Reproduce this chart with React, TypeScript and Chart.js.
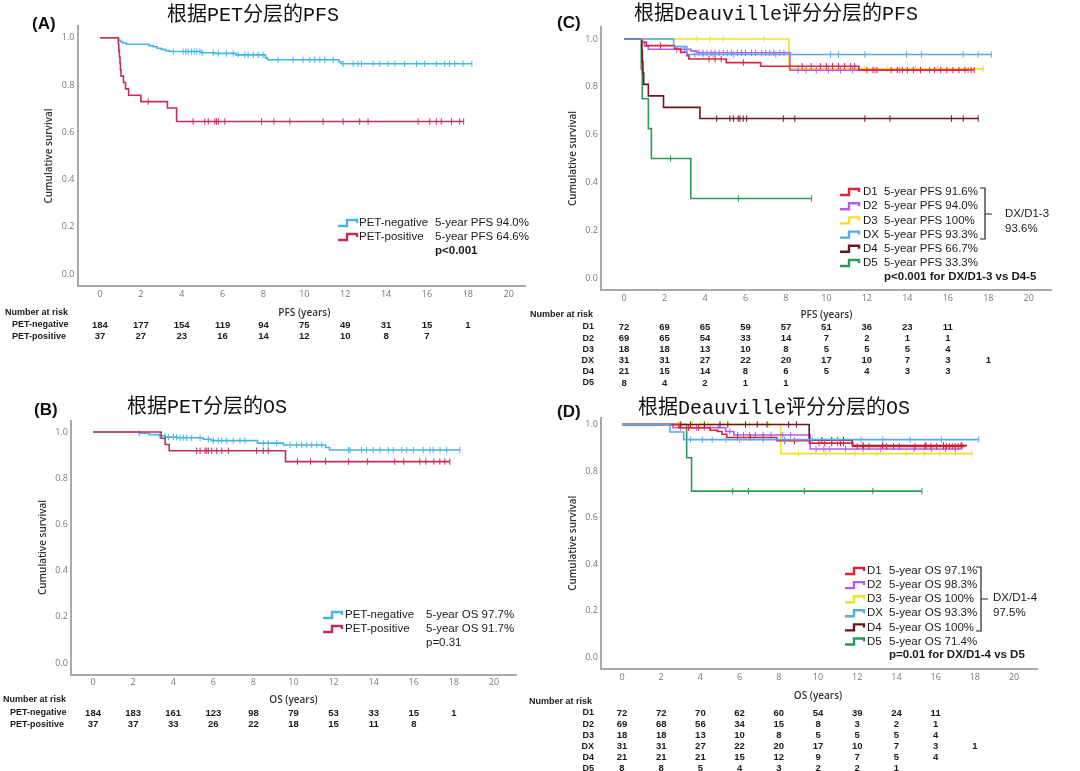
import { useEffect, useRef } from 'react';
import { Chart, registerables } from 'chart.js';
Chart.register(...registerables);

const W = 1080;
const H = 771;

// ---------------- data ----------------
const xTickValues = [0, 2, 4, 6, 8, 10, 12, 14, 16, 18, 20];
const yTickValues = [0, 0.2, 0.4, 0.6, 0.8, 1.0];
const riskTimes = [0, 2, 4, 6, 8, 10, 12, 14, 16, 18];

// Panel A: PFS by PET
const pfsNegT = [0, 0.9, 1.0, 1.1, 1.3, 2.4, 2.6, 2.8, 3.0, 3.2, 3.4, 4.95, 5.6, 6.65, 8.1, 8.2, 11.7, 11.8, 18.2];
const pfsNegS = [1, 0.989, 0.984, 0.978, 0.973, 0.967, 0.962, 0.956, 0.951, 0.946, 0.942, 0.937, 0.934, 0.928, 0.915, 0.907, 0.898, 0.89, 0.89];
const pfsNegCens = [3.59, 4.07, 4.2, 4.32, 4.48, 4.61, 4.73, 4.89, 5.0, 5.54, 5.79, 6.19, 6.52, 6.76, 7.09, 7.25, 7.5, 7.74, 7.99, 8.72, 9.45, 9.94, 10.27, 10.51, 10.76, 11.0, 11.41, 11.9, 12.39, 12.63, 12.8, 13.37, 13.69, 14.1, 14.43, 14.91, 15.49, 15.89, 16.46, 16.87, 17.11, 17.36, 17.77, 18.2];
const pfsPosT = [0, 0.9, 0.92, 0.95, 0.98, 1.0, 1.03, 1.15, 1.25, 1.4, 2.0, 3.3, 3.75, 17.8];
const pfsPosS = [1, 0.973, 0.946, 0.919, 0.892, 0.865, 0.838, 0.811, 0.784, 0.757, 0.73, 0.703, 0.646, 0.646];
const pfsPosCens = [2.36, 4.56, 5.13, 5.3, 5.62, 5.7, 5.79, 6.11, 7.91, 8.51, 9.29, 10.92, 11.9, 12.71, 13.12, 15.57, 16.14, 16.46, 16.7, 17.2, 17.6, 17.8];
const riskA_neg = [184, 177, 154, 119, 94, 75, 49, 31, 15, 1];
const riskA_pos = [37, 27, 23, 16, 14, 12, 10, 8, 7];

// Panel B: OS by PET
const osNegT = [0, 2.3, 2.8, 3.3, 3.6, 4.2, 5.5, 5.9, 8.2, 9.5, 11.6, 11.8, 18.3];
const osNegS = [1, 0.995, 0.989, 0.984, 0.978, 0.975, 0.969, 0.963, 0.952, 0.944, 0.933, 0.922, 0.922];
const osNegCens = [2.31, 3.34, 3.59, 3.76, 4.01, 4.17, 4.34, 4.5, 4.67, 4.92, 5.34, 5.75, 6.0, 6.25, 6.42, 6.67, 7.0, 7.33, 7.58, 8.49, 8.74, 9.16, 9.83, 10.16, 10.41, 10.66, 10.91, 11.16, 11.41, 12.74, 12.82, 13.4, 13.65, 13.98, 14.31, 14.73, 14.98, 15.4, 15.65, 15.98, 16.47, 16.81, 16.97, 17.31, 17.64, 18.3];
const osPosT = [0, 3.4, 3.6, 3.8, 9.6, 17.8];
const osPosS = [1, 0.973, 0.946, 0.919, 0.872, 0.872];
const osPosCens = [5.17, 5.34, 5.59, 5.67, 5.75, 5.92, 6.17, 6.42, 6.75, 8.16, 8.49, 8.74, 10.2, 10.85, 11.6, 12.74, 13.7, 15.05, 15.5, 16.3, 16.6, 17.0, 17.3, 17.55, 17.8];
const riskB_neg = [184, 183, 161, 123, 98, 79, 53, 33, 15, 1];
const riskB_pos = [37, 37, 33, 26, 22, 18, 15, 11, 8];

// Panel C: PFS by Deauville
const cD1T = [0, 0.9, 1.1, 2.5, 2.8, 3.1, 3.2, 5.05, 6.75, 11.6, 17.3];
const cD1S = [1, 0.986, 0.972, 0.958, 0.944, 0.93, 0.916, 0.901, 0.886, 0.87, 0.87];
const cD1Cens = [1.8, 4.2, 4.5, 4.8, 5.9, 8.8, 9.25, 9.7, 10.0, 10.3, 10.6, 10.9, 11.2, 11.4, 12.0, 12.3, 12.5, 13.2, 13.5, 13.75, 14.0, 14.3, 14.65, 15.35, 15.65, 15.95, 16.25, 16.55, 16.85, 17.15, 17.3];
const cD2T = [0, 0.9, 1.0, 1.2, 3.3, 3.6, 8.2, 17.0];
const cD2S = [1, 0.986, 0.971, 0.957, 0.95, 0.942, 0.869, 0.869];
const cD2Cens = [2.6, 3.0, 3.7, 3.9, 4.1, 4.3, 4.5, 4.7, 4.9, 5.1, 5.3, 5.6, 5.8, 6.0, 6.3, 6.5, 6.8, 7.0, 7.2, 7.4, 7.7, 7.9, 8.6, 9.0, 9.5, 10.1, 10.7, 11.3, 12.4, 13.6, 15.1, 17.0];
const cD3T = [0, 8.15, 17.75];
const cD3S = [1, 0.875, 0.875];
const cD3Cens = [3.6, 4.25, 4.9, 6.9, 8.9, 10.3, 11.9, 13.0, 14.4, 15.5, 16.8, 17.75];
const cDXT = [0, 2.45, 3.1, 18.15];
const cDXS = [1, 0.968, 0.935, 0.935];
const cDXCens = [3.5, 3.9, 4.4, 5.4, 7.5, 10.2, 10.6, 11.9, 13.96, 14.7, 16.76, 17.5, 18.15];
const cD4T = [0, 0.88, 0.9, 0.93, 0.97, 1.2, 1.95, 3.75, 17.5];
const cD4S = [1, 0.952, 0.905, 0.857, 0.81, 0.762, 0.714, 0.667, 0.667];
const cD4Cens = [4.58, 5.23, 5.4, 5.64, 5.73, 5.89, 6.06, 7.87, 8.44, 11.9, 13.14, 16.18, 16.76, 17.5];
const cD5T = [0, 0.85, 0.9, 1.2, 1.35, 3.3, 9.27];
const cD5S = [1, 0.875, 0.75, 0.625, 0.5, 0.333, 0.333];
const cD5Cens = [2.3, 5.65, 9.27];
const riskC_D1 = [72, 69, 65, 59, 57, 51, 36, 23, 11];
const riskC_D2 = [69, 65, 54, 33, 14, 7, 2, 1, 1];
const riskC_D3 = [18, 18, 13, 10, 8, 5, 5, 5, 4];
const riskC_DX = [31, 31, 27, 22, 20, 17, 10, 7, 3, 1];
const riskC_D4 = [21, 15, 14, 8, 6, 5, 4, 3, 3];
const riskC_D5 = [8, 4, 2, 1, 1];

// Panel D: OS by Deauville
const dD1T = [0, 2.9, 4.5, 4.85, 5.1, 5.35, 7.9, 9.56, 11.77, 17.5];
const dD1S = [1, 0.986, 0.975, 0.97, 0.958, 0.944, 0.93, 0.92, 0.906, 0.906];
const dD1Cens = [3.4, 3.9, 5.9, 6.55, 7.2, 8.3, 8.8, 10.05, 10.35, 10.7, 11.0, 11.15, 11.3, 12.0, 12.6, 13.5, 13.85, 14.15, 14.95, 15.45, 15.75, 16.05, 16.4, 16.55, 16.7, 16.85, 17.0, 17.15, 17.35];
const dD2T = [0, 2.6, 5.3, 5.7, 9.6, 17.3];
const dD2S = [1, 0.986, 0.97, 0.955, 0.895, 0.895];
const dD2Cens = [3.0, 3.4, 3.8, 4.2, 4.5, 4.9, 5.5, 5.9, 6.2, 6.5, 6.8, 7.2, 7.6, 8.2, 8.6, 9.9, 10.3, 10.6, 11.4, 12.3, 13.2, 14.9, 15.8, 16.5, 17.0];
const dD3T = [0, 8.1, 17.85];
const dD3S = [1, 0.875, 0.875];
const dD3Cens = [2.9, 3.6, 4.0, 4.4, 5.2, 6.5, 7.5, 9.0, 10.4, 11.9, 13.0, 14.5, 15.4, 16.2, 17.0, 17.85];
const dDXT = [0, 2.45, 3.15, 18.2];
const dDXS = [1, 0.968, 0.935, 0.935];
const dDXCens = [3.5, 4.1, 4.6, 5.3, 6.0, 7.2, 8.3, 9.7, 11.0, 12.2, 13.3, 14.7, 16.3, 18.2];
const dD4T = [0, 9.55, 11.75, 17.6];
const dD4S = [1, 0.933, 0.91, 0.91];
const dD4Cens = [3.0, 3.5, 4.2, 5.0, 5.4, 6.3, 6.9, 7.4, 8.5, 8.9, 10.2, 10.7, 11.0, 11.3, 12.3, 13.3, 15.5, 16.4, 17.3];
const dD5T = [0, 3.3, 3.55, 15.3];
const dD5S = [1, 0.857, 0.714, 0.714];
const dD5Cens = [2.9, 5.65, 6.45, 9.3, 12.8, 15.3];
const riskD_D1 = [72, 72, 70, 62, 60, 54, 39, 24, 11];
const riskD_D2 = [69, 68, 56, 34, 15, 8, 3, 2, 1];
const riskD_D3 = [18, 18, 13, 10, 8, 5, 5, 5, 4];
const riskD_DX = [31, 31, 27, 22, 20, 17, 10, 7, 3, 1];
const riskD_D4 = [21, 21, 21, 15, 12, 9, 7, 5, 4];
const riskD_D5 = [8, 8, 5, 4, 3, 2, 2, 1];

// ---------------- styles ----------------
const C_NEG = '#45b6e3';
const C_POS = '#bf2f5e';
const C_D1 = '#e2213f';
const C_D2 = '#b35ee8';
const C_D3 = '#ebe227';
const C_DX = '#5aa9e6';
const C_D4 = '#6e1521';
const C_D5 = '#2c9a56';

const SANS = '"Liberation Sans", Arial, sans-serif';
const OPEN = '"Open Sans", "DejaVu Sans", sans-serif';
const TITLE_FONT = '20px "Liberation Mono", "Noto Sans CJK SC", monospace';

type Curve = { t: number[]; s: number[]; c: number[]; color: string };
type RiskRow = { label: string; values: number[] };
type Panel = {
  key: string;
  letter: string; letterX: number; letterY: number;
  title: string; titleX: number; titleY: number;
  area: { l: number; t: number; r: number; b: number };
  xMin: number; xMax: number; yMin: number; yMax: number;
  curves: Curve[];
  xTitle: string; xTitleY: number;
  narX: number; narY: number;
  rowLabelX: number; rowLabelAlign: CanvasTextAlign; rowY0: number; rowDy: number;
  rows: RiskRow[];
  legend: {
    sampleX: number; labelX: number; valueX: number; y0: number; dy: number;
    labels: string[]; values: string[]; colors: string[];
    pText: string; pBold: boolean; pY: number;
    bracket?: { x: number; top: number; bottom: number; mid: number; textX: number; t1: string; t2: string; y1: number; y2: number };
  };
};

function survAt(t: number[], s: number[], x: number) {
  let v = s[0];
  for (let i = 0; i < t.length; i++) if (t[i] <= x) v = s[i];
  return v;
}

const panels: Panel[] = [
  {
    key: 'A', letter: '(A)', letterX: 32, letterY: 24.5,
    title: '根据PET分层的PFS', titleX: 253, titleY: 15.5,
    area: { l: 77.5, t: 26, r: 525, b: 286 },
    xMin: -1.1, xMax: 20.8, yMin: -0.05, yMax: 1.05,
    curves: [
      { t: pfsPosT, s: pfsPosS, c: pfsPosCens, color: C_POS },
      { t: pfsNegT, s: pfsNegS, c: pfsNegCens, color: C_NEG },
    ],
    xTitle: 'PFS (years)', xTitleY: 313,
    narX: 5, narY: 313, rowLabelX: 12, rowLabelAlign: 'left', rowY0: 325, rowDy: 11.3,
    rows: [{ label: 'PET-negative', values: riskA_neg }, { label: 'PET-positive', values: riskA_pos }],
    legend: {
      sampleX: 338, labelX: 359, valueX: 435, y0: 223, dy: 14,
      labels: ['PET-negative', 'PET-positive'], values: ['5-year PFS 94.0%', '5-year PFS 64.6%'], colors: [C_NEG, C_POS],
      pText: 'p<0.001', pBold: true, pY: 251,
    },
  },
  {
    key: 'B', letter: '(B)', letterX: 34, letterY: 410,
    title: '根据PET分层的OS', titleX: 207, titleY: 408,
    area: { l: 71, t: 420.5, r: 516, b: 674.5 },
    xMin: -1.1, xMax: 21.1, yMin: -0.05, yMax: 1.05,
    curves: [
      { t: osPosT, s: osPosS, c: osPosCens, color: C_POS },
      { t: osNegT, s: osNegS, c: osNegCens, color: C_NEG },
    ],
    xTitle: 'OS (years)', xTitleY: 700,
    narX: 3, narY: 700, rowLabelX: 10, rowLabelAlign: 'left', rowY0: 713, rowDy: 11.3,
    rows: [{ label: 'PET-negative', values: riskB_neg }, { label: 'PET-positive', values: riskB_pos }],
    legend: {
      sampleX: 323, labelX: 345, valueX: 426, y0: 615, dy: 14,
      labels: ['PET-negative', 'PET-positive'], values: ['5-year OS 97.7%', '5-year OS 91.7%'], colors: [C_NEG, C_POS],
      pText: 'p=0.31', pBold: false, pY: 643,
    },
  },
  {
    key: 'C', letter: '(C)', letterX: 557, letterY: 23.5,
    title: '根据Deauville评分分层的PFS', titleX: 776, titleY: 15,
    area: { l: 601, t: 27, r: 1051, b: 290 },
    xMin: -1.14, xMax: 21.1, yMin: -0.05, yMax: 1.05,
    curves: [
      { t: cDXT, s: cDXS, c: cDXCens, color: C_DX },
      { t: cD1T, s: cD1S, c: cD1Cens, color: C_D1 },
      { t: cD4T, s: cD4S, c: cD4Cens, color: C_D4 },
      { t: cD2T, s: cD2S, c: cD2Cens, color: C_D2 },
      { t: cD3T, s: cD3S, c: cD3Cens, color: C_D3 },
      { t: cD5T, s: cD5S, c: cD5Cens, color: C_D5 },
    ],
    xTitle: 'PFS (years)', xTitleY: 315,
    narX: 530, narY: 315, rowLabelX: 594, rowLabelAlign: 'right', rowY0: 327, rowDy: 11.2,
    rows: [
      { label: 'D1', values: riskC_D1 }, { label: 'D2', values: riskC_D2 }, { label: 'D3', values: riskC_D3 },
      { label: 'DX', values: riskC_DX }, { label: 'D4', values: riskC_D4 }, { label: 'D5', values: riskC_D5 },
    ],
    legend: {
      sampleX: 840, labelX: 863, valueX: 884, y0: 192, dy: 14.2,
      labels: ['D1', 'D2', 'D3', 'DX', 'D4', 'D5'],
      values: ['5-year PFS 91.6%', '5-year PFS 94.0%', '5-year PFS 100%', '5-year PFS 93.3%', '5-year PFS 66.7%', '5-year PFS 33.3%'],
      colors: [C_D1, C_D2, C_D3, C_DX, C_D4, C_D5],
      pText: 'p<0.001 for DX/D1-3 vs D4-5', pBold: true, pY: 277,
      bracket: { x: 985, top: 188, bottom: 239, mid: 214, textX: 1005, t1: 'DX/D1-3', t2: '93.6%', y1: 214, y2: 229 },
    },
  },
  {
    key: 'D', letter: '(D)', letterX: 557, letterY: 412,
    title: '根据Deauville评分分层的OS', titleX: 774, titleY: 408.5,
    area: { l: 601, t: 417.5, r: 1037, b: 669 },
    xMin: -1.07, xMax: 21.17, yMin: -0.05, yMax: 1.03,
    curves: [
      { t: dDXT, s: dDXS, c: dDXCens, color: C_DX },
      { t: dD1T, s: dD1S, c: dD1Cens, color: C_D1 },
      { t: dD4T, s: dD4S, c: dD4Cens, color: C_D4 },
      { t: dD2T, s: dD2S, c: dD2Cens, color: C_D2 },
      { t: dD3T, s: dD3S, c: dD3Cens, color: C_D3 },
      { t: dD5T, s: dD5S, c: dD5Cens, color: C_D5 },
    ],
    xTitle: 'OS (years)', xTitleY: 696,
    narX: 529, narY: 702, rowLabelX: 594, rowLabelAlign: 'right', rowY0: 713, rowDy: 11.15,
    rows: [
      { label: 'D1', values: riskD_D1 }, { label: 'D2', values: riskD_D2 }, { label: 'D3', values: riskD_D3 },
      { label: 'DX', values: riskD_DX }, { label: 'D4', values: riskD_D4 }, { label: 'D5', values: riskD_D5 },
    ],
    legend: {
      sampleX: 845, labelX: 867, valueX: 889, y0: 571, dy: 14.1,
      labels: ['D1', 'D2', 'D3', 'DX', 'D4', 'D5'],
      values: ['5-year OS 97.1%', '5-year OS 98.3%', '5-year OS 100%', '5-year OS 93.3%', '5-year OS 100%', '5-year OS 71.4%'],
      colors: [C_D1, C_D2, C_D3, C_DX, C_D4, C_D5],
      pText: 'p=0.01 for DX/D1-4 vs D5', pBold: true, pY: 655,
      bracket: { x: 981, top: 567, bottom: 631, mid: 599, textX: 993, t1: 'DX/D1-4', t2: '97.5%', y1: 598, y2: 613 },
    },
  },
];

const YW = 22;
const XH = 16;

function makePlugin(p: Panel) {
  return {
    id: 'km' + p.key,
    afterDraw(chart: any) {
      const ctx: CanvasRenderingContext2D = chart.ctx;
      const xs = chart.scales.x;
      const a = chart.chartArea;
      ctx.save();
      ctx.textBaseline = 'middle';
      // panel letter
      ctx.fillStyle = '#111';
      ctx.textAlign = 'left';
      ctx.font = 'bold 17px ' + SANS;
      ctx.fillText(p.letter, p.letterX, p.letterY);
      // title
      ctx.textAlign = 'center';
      ctx.font = TITLE_FONT;
      ctx.fillText(p.title, p.titleX, p.titleY);
      // y-axis title
      ctx.save();
      ctx.translate(a.left - 28, (a.top + a.bottom) / 2);
      ctx.rotate(-Math.PI / 2);
      ctx.font = '600 10px ' + OPEN;
      ctx.fillStyle = '#333';
      ctx.fillText('Cumulative survival', 0, 0);
      ctx.restore();
      // x-axis title
      ctx.font = '600 10px ' + OPEN;
      ctx.fillStyle = '#333';
      ctx.fillText(p.xTitle, xs.getPixelForValue(10), p.xTitleY);
      // risk table
      ctx.fillStyle = '#1a1a1a';
      ctx.font = 'bold 9px ' + SANS;
      ctx.textAlign = 'left';
      ctx.fillText('Number at risk', p.narX, p.narY);
      p.rows.forEach((row, ri) => {
        const y = p.rowY0 + ri * p.rowDy;
        ctx.font = 'bold 9px ' + SANS;
        ctx.textAlign = p.rowLabelAlign;
        ctx.fillText(row.label, p.rowLabelX, y);
        ctx.font = 'bold 9.5px ' + SANS;
        ctx.textAlign = 'center';
        row.values.forEach((v, i) => {
          ctx.fillText(String(v), xs.getPixelForValue(riskTimes[i]), y);
        });
      });
      // legend
      const lg = p.legend;
      lg.labels.forEach((lab, i) => {
        const y = lg.y0 + i * lg.dy;
        const x0 = lg.sampleX;
        ctx.strokeStyle = lg.colors[i];
        ctx.lineWidth = 2.4;
        ctx.lineJoin = 'miter';
        ctx.beginPath();
        ctx.moveTo(x0, y + 3);
        ctx.lineTo(x0 + 9, y + 3);
        ctx.lineTo(x0 + 9, y - 3);
        ctx.lineTo(x0 + 19, y - 3);
        ctx.lineTo(x0 + 19, y);
        ctx.stroke();
        ctx.fillStyle = '#1a1a1a';
        ctx.textAlign = 'left';
        ctx.font = '11.5px ' + SANS;
        ctx.fillText(lab, lg.labelX, y);
        ctx.fillText(lg.values[i], lg.valueX, y);
      });
      ctx.font = (lg.pBold ? 'bold ' : '') + '11.5px ' + SANS;
      ctx.fillText(lg.pText, lg.valueX, lg.pY);
      if (lg.bracket) {
        const b = lg.bracket;
        ctx.strokeStyle = '#222';
        ctx.lineWidth = 1.2;
        ctx.beginPath();
        ctx.moveTo(b.x - 5, b.top);
        ctx.lineTo(b.x, b.top);
        ctx.lineTo(b.x, b.bottom);
        ctx.lineTo(b.x - 5, b.bottom);
        ctx.moveTo(b.x, b.mid);
        ctx.lineTo(b.x + 7, b.mid);
        ctx.stroke();
        ctx.font = '11.5px ' + SANS;
        ctx.fillText(b.t1, b.textX, b.y1);
        ctx.fillText(b.t2, b.textX, b.y2);
      }
      ctx.restore();
    },
  };
}

function buildConfig(p: Panel): any {
  const datasets: any[] = [];
  p.curves.forEach((cv) => {
    datasets.push({
      type: 'line',
      data: cv.t.map((t, i) => ({ x: t, y: cv.s[i] })),
      borderColor: cv.color,
      borderWidth: 1.6,
      stepped: true,
      pointRadius: 0,
      pointHoverRadius: 0,
      fill: false,
    });
    datasets.push({
      type: 'line',
      data: cv.c.map((t) => ({ x: t, y: survAt(cv.t, cv.s, t) })),
      showLine: false,
      pointStyle: 'line',
      pointRadius: 3.2,
      pointHoverRadius: 0,
      pointRotation: 90,
      pointBorderColor: cv.color,
      pointBackgroundColor: cv.color,
      pointBorderWidth: 1,
      borderColor: cv.color,
    });
  });
  const axisCommon = {
    type: 'linear',
    grid: { display: false, drawTicks: false },
    border: { display: true, color: '#a9a9a9', width: 2 },
  };
  return {
    type: 'line',
    data: { datasets },
    options: {
      responsive: false,
      animation: false,
      events: [],
      layout: {
        padding: {
          left: p.area.l - YW,
          top: p.area.t,
          right: W - p.area.r,
          bottom: H - p.area.b - XH,
        },
      },
      plugins: { legend: { display: false }, tooltip: { enabled: false }, title: { display: false } },
      scales: {
        x: {
          ...axisCommon,
          min: p.xMin,
          max: p.xMax,
          afterBuildTicks: (s: any) => { s.ticks = xTickValues.map((v) => ({ value: v })); },
          afterFit: (s: any) => { s.height = XH; },
          ticks: {
            autoSkip: false, maxRotation: 0, minRotation: 0, padding: 3, color: '#777',
            font: { family: OPEN, size: 9 },
            callback: (v: any) => String(v),
          },
        },
        y: {
          ...axisCommon,
          min: p.yMin,
          max: p.yMax,
          afterBuildTicks: (s: any) => { s.ticks = yTickValues.map((v) => ({ value: v })); },
          afterFit: (s: any) => { s.width = YW; },
          ticks: {
            autoSkip: false, padding: 3, color: '#777',
            font: { family: OPEN, size: 9 },
            callback: (v: any) => Number(v).toFixed(1),
          },
        },
      },
    },
    plugins: [makePlugin(p)],
  };
}

function PanelChart({ panel }: { panel: Panel }) {
  const ref = useRef<HTMLCanvasElement | null>(null);
  useEffect(() => {
    if (!ref.current) return;
    const chart = new Chart(ref.current, buildConfig(panel));
    return () => chart.destroy();
  }, [panel]);
  return (
    <canvas
      ref={ref}
      width={W}
      height={H}
      style={{ position: 'absolute', left: 0, top: 0, width: W, height: H }}
    />
  );
}

export default function App() {
  return (
    <div style={{ position: 'fixed', left: 0, top: 0, width: W, height: H, background: '#fff', overflow: 'hidden' }}>
      {panels.map((p) => (
        <PanelChart key={p.key} panel={p} />
      ))}
    </div>
  );
}
